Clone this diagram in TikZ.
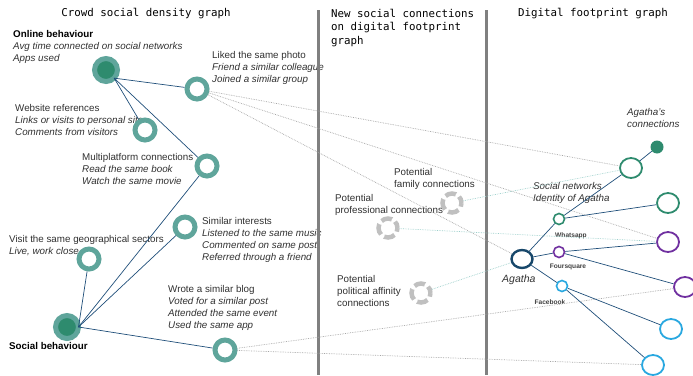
\documentclass[tikz,border=0pt]{standalone}
\usepackage{fontspec}
\setmainfont{Liberation Sans}
\newfontfamily\titlefont{DejaVu Sans Mono}
\usepackage{tikz}
\usetikzlibrary{shapes}

\definecolor{crowdteal}{HTML}{5FA59B}
\definecolor{hubgreen}{HTML}{2E8B6E}
\definecolor{linkblue}{HTML}{1F4E79}
\definecolor{agathanavy}{HTML}{17476A}
\definecolor{netgreen}{HTML}{2E8B6E}
\definecolor{netpurple}{HTML}{7030A0}
\definecolor{netcyan}{HTML}{29A8E0}
\definecolor{sepgray}{HTML}{808080}
\definecolor{tracegray}{HTML}{A6A6A6}
\definecolor{hintteal}{HTML}{9CCFCB}
\definecolor{potgray}{HTML}{C0C0C0}
\definecolor{txtgray}{HTML}{303030}

\begin{document}
\begin{tikzpicture}[x=1pt,y=-1pt]

\tikzstyle{ring} = [draw=crowdteal, circle, fill=white, line width=5pt, minimum size=20pt, inner sep=0pt]
\tikzstyle{hub} = [ring, fill=hubgreen, minimum size=23pt, outer sep=0pt]
\tikzstyle{idring} = [draw, ellipse, fill=white, line width=1.8pt, minimum width=22pt, minimum height=20pt, inner sep=0pt]
\tikzstyle{smallring} = [draw, circle, fill=white, line width=1.6pt, minimum size=11pt, inner sep=0pt]
\tikzstyle{potential} = [draw=potgray, circle, line width=4.5pt, minimum size=19pt, inner sep=0pt, dash pattern=on 10.9pt off 4pt, dash phase=4pt]
\tikzstyle{link} = [draw=linkblue, line width=0.7pt]
\tikzstyle{trace} = [draw=tracegray, densely dotted, line width=0.7pt]
\tikzstyle{hint} = [draw=hintteal, densely dotted, line width=0.7pt]
\tikzstyle{txt} = [anchor=north west, align=left, inner sep=0pt, font=\fontsize{9.8}{12}\selectfont, text=txtgray]
\tikzstyle{title} = [inner sep=0pt, font=\titlefont\fontsize{10.8}{13.5}\selectfont, text=black]
\tikzstyle{netlabel} = [inner sep=0pt, font=\bfseries\fontsize{6.6}{7}\selectfont, text=darkgray]

\useasboundingbox (0,0) rectangle (693,375);

%titles
\node [title] (crowdtitle) at (146,14) {Crowd social density graph};
\node [title, anchor=north west, align=left] (newtitle) at (331,9) {New social connections\\on digital footprint\\graph};
\node [title] (digitaltitle) at (593,14) {Digital footprint graph};

%texts
\node [txt] (onlinetext) at (13,30) {\textbf{\color{black}Online behaviour}\\\textit{Avg time connected on social networks}\\\textit{Apps used}};
\node [txt] (phototext) at (212,51) {Liked the same photo\\\textit{Friend a similar colleague}\\\textit{Joined a similar group}};
\node [txt] (websitetext) at (15,104) {Website references\\\textit{Links or visits to personal site}\\\textit{Comments from visitors}};
\node [txt] (multitext) at (82,153) {Multiplatform connections\\\textit{Read the same book}\\\textit{Watch the same movie}};
\node [txt] (intereststext) at (202,217) {Similar interests\\\textit{Listened to the same music}\\\textit{Commented on same post}\\\textit{Referred through a friend}};
\node [txt] (geotext) at (9,235) {Visit the same geographical sectors\\\textit{Live, work close}};
\node [txt] (blogtext) at (168,285) {Wrote a similar blog\\\textit{Voted for a similar post}\\\textit{Attended the same event}\\\textit{Used the same app}};
\node [txt] (socialtext) at (9,342) {\textbf{\color{black}Social behaviour}};
\node [txt] (familytext) at (394,168) {Potential\\family connections};
\node [txt] (professionaltext) at (335,194) {Potential\\professional connections};
\node [txt] (politicaltext) at (337,275) {Potential\\political affinity\\connections};
\node [txt] (conntext) at (627,108) {\textit{Agatha’s}\\\textit{connections}};
\node [txt] (idtext) at (533,182) {\textit{Social networks}\\\textit{Identity of Agatha}};
\node [txt, font=\fontsize{10.5}{12}\selectfont] (agathatext) at (502,275) {\textit{Agatha}};

%separators
\draw [sepgray, line width=3pt] (318,10) -- (318,375);
\draw [sepgray, line width=3pt] (486,10) -- (486,375);

%crowd graph
\node [hub] (online) at (106,70) {};
\node [ring] (photo) at (197,89) {};
\node [ring] (website) at (145,130) {};
\node [ring] (multi) at (207,166) {};
\node [ring] (interests) at (185,227) {};
\node [ring] (geo) at (89,259) {};
\node [hub] (social) at (67,327) {};
\node [ring] (blog) at (225,350) {};

%potential connections
\node [potential] (family) at (452,203) {};
\node [potential] (professional) at (388,228) {};
\node [potential] (political) at (421,293) {};

%footprint graph
\node [idring, draw=agathanavy, line width=2.4pt, minimum width=21pt, minimum height=18pt] (agatha) at (522,259) {};
\node [smallring, draw=netgreen] (whatsapp) at (559,219) {};
\node [smallring, draw=netpurple] (foursquare) at (559,252) {};
\node [smallring, draw=netcyan] (facebook) at (562,286) {};
\node [idring, draw=netgreen] (wa1) at (631,168) {};
\node [circle, fill=netgreen, minimum size=13pt, inner sep=0pt] (wadot) at (657,147) {};
\node [idring, draw=netgreen] (wa2) at (668,203) {};
\node [idring, draw=netpurple] (fs1) at (668,242) {};
\node [idring, draw=netpurple] (fs2) at (685,287) {};
\node [idring, draw=netcyan] (fb1) at (671,329) {};
\node [idring, draw=netcyan] (fb2) at (653,365) {};
\node [netlabel] (walabel) at (571,236) {Whatsapp};
\node [netlabel] (fslabel) at (568,267) {Foursquare};
\node [netlabel] (fblabel) at (550,302) {Facebook};

%traces
\path [trace] (photo) -- (wa1);
\path [trace] (photo) -- (fs1);
\path [trace] (photo) -- (agatha);
\path [trace] (blog) -- (fs2);
\path [trace] (blog) -- (fb2);
\path [hint] (family) -- (wa1);
\path [hint] (professional) -- (fs1);
\path [hint] (political) -- (agatha);

%links
\path [link] (online.south east) -- (photo);
\path [link] (online.south east) -- (website);
\path [link] (online.south east) -- (multi);
\path [link] (multi) -- (social.east);
\path [link] (interests) -- (social.east);
\path [link] (geo) -- (social.east);
\path [link] (social.east) -- (blog);
\path [link] (agatha) -- (whatsapp);
\path [link] (agatha) -- (foursquare);
\path [link] (agatha) -- (facebook);
\path [link] (whatsapp) -- (wa1);
\path [link] (wa1) -- (wadot);
\path [link] (whatsapp) -- (wa2);
\path [link] (foursquare) -- (fs1);
\path [link] (foursquare) -- (fs2);
\path [link] (facebook) -- (fb1);
\path [link] (facebook) -- (fb2);
\end{tikzpicture}
\end{document}
